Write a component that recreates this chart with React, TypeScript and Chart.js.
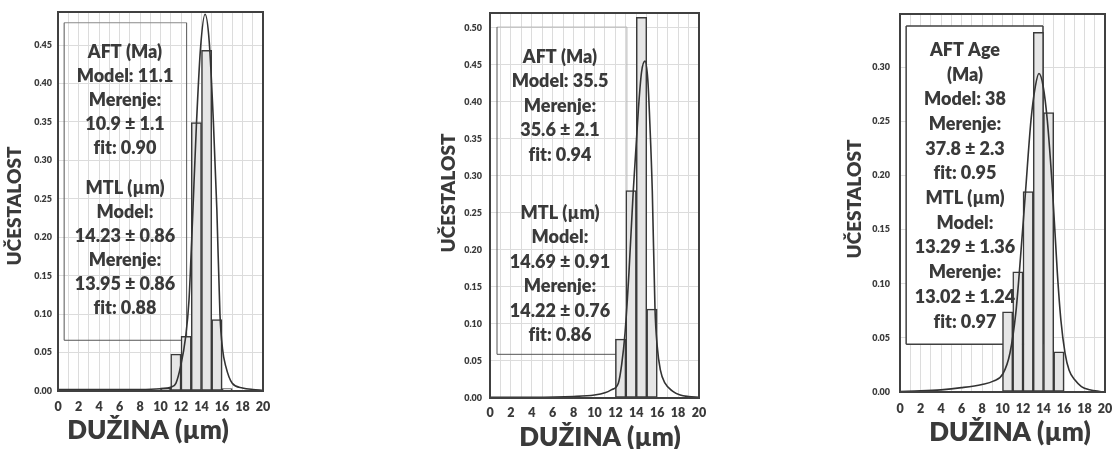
import React, { useEffect, useRef } from 'react';
import { Chart, registerables } from 'chart.js';

Chart.register(...registerables);

const FONT = "Lato, 'Open Sans', 'DejaVu Sans', sans-serif";
const TXT = '#3a3a3a';
const GRID = '#dcdcdc';
const W = 1114;
const H = 449;

// ---------- shared axis ticks ----------
const xTickValues = [0, 1, 2, 3, 4, 5, 6, 7, 8, 9, 10, 11, 12, 13, 14, 15, 16, 17, 18, 19, 20];
const xLabelValues = [0, 2, 4, 6, 8, 10, 12, 14, 16, 18, 20];
const yTitleText = 'UČESTALOST';
const xTitleText = 'DUŽINA (µm)';

// ---------- panel 1 ----------
const p1BinCenters = [10.5, 11.5, 12.5, 13.5, 14.5, 15.5, 16.5];
const p1Freq = [0.004, 0.048, 0.071, 0.349, 0.443, 0.093, 0.003];
const p1CurveX = [0, 2, 4, 6, 8, 10, 11, 11.5, 11.96, 12.45, 12.78, 13.1, 13.5, 13.9, 14.35, 14.75, 15.16, 15.5, 15.8, 16.05, 16.37, 17.0, 18.0, 19.0, 20];
const p1CurveY = [0.002, 0.002, 0.002, 0.002, 0.002, 0.003, 0.005, 0.01, 0.032, 0.07, 0.118, 0.215, 0.345, 0.445, 0.49, 0.455, 0.35, 0.235, 0.1, 0.055, 0.032, 0.01, 0.004, 0.002, 0.001];
const p1YTicks = [0, 0.05, 0.1, 0.15, 0.2, 0.25, 0.3, 0.35, 0.4, 0.45];
const p1Lines = ['AFT (Ma)', 'Model: 11.1', 'Merenje:', '10.9 ± 1.1', 'fit: 0.90', 'MTL (µm)', 'Model:', '14.23 ± 0.86', 'Merenje:', '13.95 ± 0.86', 'fit: 0.88'];

// ---------- panel 2 ----------
const p2BinCenters = [12.5, 13.5, 14.5, 15.5];
const p2Freq = [0.0795, 0.28, 0.514, 0.12];
const p2CurveX = [0, 4, 8, 10, 11, 11.6, 12.28, 12.6, 12.92, 13.3, 13.71, 14.2, 14.5, 14.83, 15.1, 15.3, 15.53, 15.79, 16.0, 16.3, 16.75, 17.5, 18.2, 19, 20];
const p2CurveY = [0.001, 0.001, 0.002, 0.004, 0.007, 0.011, 0.02, 0.045, 0.0875, 0.17, 0.28, 0.39, 0.44, 0.455, 0.43, 0.37, 0.28, 0.12, 0.07, 0.038, 0.02, 0.009, 0.004, 0.002, 0.001];
const p2YTicks = [0, 0.05, 0.1, 0.15, 0.2, 0.25, 0.3, 0.35, 0.4, 0.45, 0.5];
const p2Lines = ['AFT (Ma)', 'Model: 35.5', 'Merenje:', '35.6 ± 2.1', 'fit: 0.94', 'MTL (µm)', 'Model:', '14.69 ± 0.91', 'Merenje:', '14.22 ± 0.76', 'fit: 0.86'];

// ---------- panel 3 ----------
const p3BinCenters = [10.5, 11.5, 12.5, 13.5, 14.5, 15.5];
const p3Freq = [0.074, 0.111, 0.185, 0.332, 0.258, 0.037];
const p3CurveX = [0, 2, 4, 6, 8, 9.1, 10.05, 10.73, 11.3, 11.64, 12.23, 12.78, 13.2, 13.56, 13.95, 14.37, 14.9, 15.35, 15.7, 16.1, 16.5, 17.07, 17.7, 18.5, 19.5, 20];
const p3CurveY = [0.0005, 0.001, 0.002, 0.004, 0.007, 0.01, 0.017, 0.036, 0.073, 0.11, 0.183, 0.251, 0.282, 0.294, 0.283, 0.251, 0.183, 0.11, 0.066, 0.036, 0.02, 0.011, 0.005, 0.002, 0.0005, 0];
const p3YTicks = [0, 0.05, 0.1, 0.15, 0.2, 0.25, 0.3];
const p3Lines = ['AFT Age', '(Ma)', 'Model: 38', 'Merenje:', '37.8 ± 2.3', 'fit: 0.95', 'MTL (µm)', 'Model:', '13.29 ± 1.36', 'Merenje:', '13.02 ± 1.24', 'fit: 0.97'];

// ---------- layout / style per panel ----------
const panels = [
  {
    bins: p1BinCenters, freq: p1Freq, cx: p1CurveX, cy: p1CurveY, yTicks: p1YTicks, yMax: 0.493, lines: p1Lines,
    area: { left: 58, top: 12, right: 263, bottom: 391 }, yPad: 6, xPad: 8,
    box: { x0: 0.6, x1: 12.55, y0: 0.066, y1: 0.479 }, boxFill: null as string | null,
    boxStroke: { top: '#8a8a8a', right: '#555', bottom: '#555', left: '#555' }, boxLW: 1,
    text: { cx: 125, y0: 52, lh: 24, gapAfter: 5, gap: 16 },
    yTitle: { x: 15, y: 206 }, xTitle: { x: 148, y: 431 },
  },
  {
    bins: p2BinCenters, freq: p2Freq, cx: p2CurveX, cy: p2CurveY, yTicks: p2YTicks, yMax: 0.52, lines: p2Lines,
    area: { left: 490, top: 13, right: 699, bottom: 398 }, yPad: 8, xPad: 7,
    box: { x0: 0.67, x1: 13.1, y0: 0.059, y1: 0.501 }, boxFill: null as string | null,
    boxStroke: { top: '#b5b5b5', right: '#b5b5b5', bottom: '#555', left: '#555' }, boxLW: 1,
    text: { cx: 560, y0: 57, lh: 24.5, gapAfter: 5, gap: 33.5 },
    yTitle: { x: 449, y: 193 }, xTitle: { x: 600, y: 438 },
  },
  {
    bins: p3BinCenters, freq: p3Freq, cx: p3CurveX, cy: p3CurveY, yTicks: p3YTicks, yMax: 0.349, lines: p3Lines,
    area: { left: 900, top: 14, right: 1105, bottom: 392 }, yPad: 10, xPad: 9,
    box: { x0: 0.6, x1: 13.95, y0: 0.044, y1: 0.338 }, boxFill: '#ffffff' as string | null,
    boxStroke: { top: '#404040', right: '#404040', bottom: '#404040', left: '#404040' }, boxLW: 1.5,
    text: { cx: 965, y0: 50, lh: 24.7, gapAfter: -1, gap: 0 },
    yTitle: { x: 855, y: 199 }, xTitle: { x: 1010, y: 433 },
  },
];

type Panel = typeof panels[number];

const decorPlugin = {
  id: 'panelDecor',
  beforeDatasetsDraw(chart: any, _args: any, opts: any) {
    const p: Panel = opts.panel;
    const { x, y } = chart.scales;
    const ctx = chart.ctx;
    const l = x.getPixelForValue(p.box.x0);
    const r = x.getPixelForValue(p.box.x1);
    const t = y.getPixelForValue(p.box.y1);
    const b = y.getPixelForValue(p.box.y0);
    ctx.save();
    if (p.boxFill) {
      ctx.fillStyle = p.boxFill;
      ctx.fillRect(l, t, r - l, b - t);
    }
    ctx.lineWidth = p.boxLW;
    const seg = (x1: number, y1: number, x2: number, y2: number, c: string) => {
      ctx.strokeStyle = c;
      ctx.beginPath();
      ctx.moveTo(x1, y1);
      ctx.lineTo(x2, y2);
      ctx.stroke();
    };
    seg(l, t, r, t, p.boxStroke.top);
    seg(r, t, r, b, p.boxStroke.right);
    seg(l, b, r, b, p.boxStroke.bottom);
    seg(l, t, l, b, p.boxStroke.left);
    ctx.restore();
  },
  afterDatasetsDraw(chart: any, _args: any, opts: any) {
    const p: Panel = opts.panel;
    const ctx = chart.ctx;
    const a = chart.chartArea;
    ctx.save();
    // plot frame
    ctx.strokeStyle = '#404040';
    ctx.lineWidth = 2;
    ctx.strokeRect(a.left, a.top, a.right - a.left, a.bottom - a.top);
    // stats text (no "fi" ligature, as in the reference)
    try {
      (ctx as any).textRendering = 'optimizeSpeed';
    } catch (e) {
      /* ignore */
    }
    ctx.fillStyle = TXT;
    ctx.font = `800 18px ${FONT}`;
    ctx.textAlign = 'center';
    ctx.textBaseline = 'middle';
    let yy = p.text.y0;
    p.lines.forEach((s, i) => {
      ctx.fillText(s, p.text.cx, yy);
      yy += p.text.lh + (i === p.text.gapAfter - 1 ? p.text.gap : 0);
    });
    // axis titles
    ctx.font = `800 26px ${FONT}`;
    ctx.fillText(xTitleText, p.xTitle.x, p.xTitle.y);
    ctx.font = `800 19px ${FONT}`;
    ctx.translate(p.yTitle.x, p.yTitle.y);
    ctx.rotate(-Math.PI / 2);
    ctx.fillText(yTitleText, 0, 0);
    ctx.restore();
  },
};

function makeConfig(p: Panel): any {
  return {
    type: 'bar',
    data: {
      datasets: [
        {
          type: 'line',
          data: p.cx.map((x, i) => ({ x, y: p.cy[i] })),
          borderColor: '#333333',
          borderWidth: 1.6,
          pointRadius: 0,
          fill: false,
          cubicInterpolationMode: 'monotone',
          order: 0,
        },
        {
          type: 'bar',
          data: p.bins.map((x, i) => ({ x, y: p.freq[i] })),
          backgroundColor: '#e6e6e6',
          borderColor: '#3a3a3a',
          borderWidth: 1.5,
          borderSkipped: false,
          barPercentage: 1,
          categoryPercentage: 1,
          order: 1,
        },
      ],
    },
    options: {
      animation: false,
      responsive: false,
      devicePixelRatio: 1,
      events: [],
      layout: { padding: { left: 0, top: p.area.top, right: W - p.area.right, bottom: 0 } },
      plugins: {
        legend: { display: false },
        tooltip: { enabled: false },
        panelDecor: { panel: p },
      },
      scales: {
        x: {
          type: 'linear',
          min: 0,
          max: 20,
          offset: false,
          grid: { color: GRID, lineWidth: 1, offset: false, drawTicks: false },
          border: { display: false },
          ticks: {
            autoSkip: false,
            maxRotation: 0,
            padding: p.xPad,
            color: TXT,
            font: { family: FONT, weight: '800', size: 12.5 },
            callback: (v: any) => (xLabelValues.includes(Number(v)) ? String(v) : ''),
          },
          afterBuildTicks: (s: any) => {
            s.ticks = xTickValues.map((v) => ({ value: v }));
          },
          afterFit: (s: any) => {
            s.height = H - p.area.bottom;
            s.paddingLeft = 0;
            s.paddingRight = 0;
          },
        },
        y: {
          type: 'linear',
          min: 0,
          max: p.yMax,
          grid: { color: GRID, lineWidth: 1, drawTicks: false },
          border: { display: false },
          ticks: {
            padding: p.yPad,
            color: TXT,
            font: { family: FONT, weight: '800', size: 9 },
            callback: (v: any) => Number(v).toFixed(2),
          },
          afterBuildTicks: (s: any) => {
            s.ticks = p.yTicks.map((v) => ({ value: v }));
          },
          afterFit: (s: any) => {
            s.width = p.area.left;
            s.paddingTop = 0;
            s.paddingBottom = 0;
            s.paddingLeft = 0;
            s.paddingRight = 0;
          },
        },
      },
    },
    plugins: [decorPlugin],
  };
}

function PanelChart({ panel }: { panel: Panel }) {
  const ref = useRef<HTMLCanvasElement | null>(null);
  useEffect(() => {
    if (!ref.current) return;
    const chart = new Chart(ref.current, makeConfig(panel));
    return () => chart.destroy();
  }, [panel]);
  return (
    <canvas
      ref={ref}
      width={W}
      height={H}
      style={{ position: 'absolute', left: 0, top: 0, width: W, height: H }}
    />
  );
}

export default function App() {
  return (
    <div
      style={{
        position: 'fixed',
        left: 0,
        top: 0,
        width: W,
        height: H,
        background: '#ffffff',
        overflow: 'hidden',
      }}
    >
      {panels.map((p, i) => (
        <PanelChart key={i} panel={p} />
      ))}
    </div>
  );
}
